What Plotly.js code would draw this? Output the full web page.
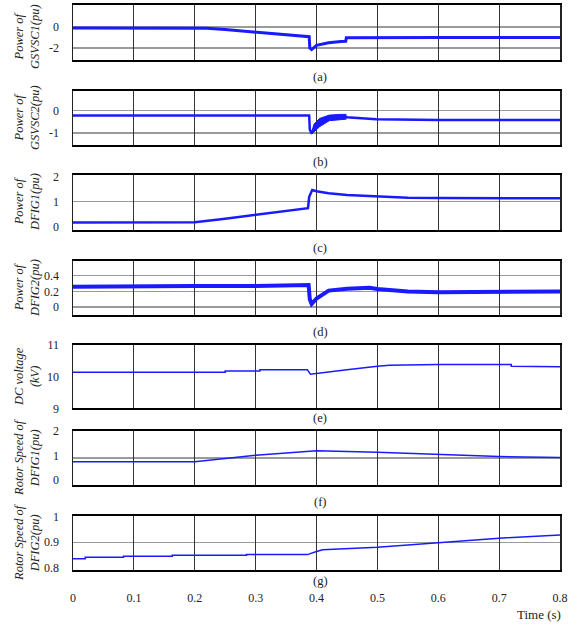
<!DOCTYPE html>
<html>
<head>
<meta charset="utf-8">
<script src="https://cdn.plot.ly/plotly-3.0.1.min.js"></script>
<style>html,body{margin:0;padding:0;background:#fff;}#chart{width:577px;height:626px;}</style>
</head>
<body>
<div id="chart"></div>
<script>
// ---- data ----
const xTicks = [0, 0.1, 0.2, 0.3, 0.4, 0.5, 0.6, 0.7, 0.8];
const xTickText = ['0', '0.1', '0.2', '0.3', '0.4', '0.5', '0.6', '0.7', '0.8'];

// (a) Power of GSVSC1
const tA = [0, 0.1, 0.2, 0.22, 0.25, 0.3, 0.356, 0.388, 0.389, 0.392, 0.40, 0.42, 0.44, 0.448, 0.449, 0.5, 0.6, 0.7, 0.8];
const vA = [-0.1, -0.1, -0.11, -0.13, -0.25, -0.5, -0.76, -0.92, -2.0, -2.15, -1.75, -1.5, -1.38, -1.36, -1.02, -1.0, -1.0, -1.0, -1.0];

// (b) Power of GSVSC2
const tB = [0, 0.2, 0.388, 0.389, 0.392, 0.396, 0.405, 0.421, 0.438, 0.449, 0.45, 0.498, 0.6, 0.7, 0.8];
const vB = [-0.22, -0.22, -0.22, -0.85, -1.02, -0.8, -0.55, -0.33, -0.28, -0.28, -0.3, -0.38, -0.42, -0.42, -0.42];
const tBband = [0.392, 0.396, 0.405, 0.421, 0.438, 0.449];
const bUpper = [-0.95, -0.6, -0.35, -0.2, -0.17, -0.17];
const bLower = [-1.05, -0.95, -0.72, -0.45, -0.39, -0.38];

// (c) Power of DFIG1
const tC = [0, 0.1, 0.2, 0.25, 0.3, 0.34, 0.386, 0.388, 0.393, 0.40, 0.42, 0.45, 0.5, 0.55, 0.6, 0.7, 0.8];
const vC = [0.17, 0.17, 0.18, 0.32, 0.47, 0.6, 0.74, 1.2, 1.47, 1.42, 1.34, 1.27, 1.2, 1.16, 1.15, 1.14, 1.14];

// (d) Power of DFIG2
const tD = [0, 0.1, 0.2, 0.3, 0.36, 0.387, 0.389, 0.392, 0.40, 0.42, 0.45, 0.487, 0.5, 0.52, 0.55, 0.6, 0.7, 0.8];
const vD = [0.26, 0.27, 0.27, 0.27, 0.285, 0.28, 0.1, 0.04, 0.11, 0.21, 0.235, 0.245, 0.23, 0.22, 0.2, 0.19, 0.19, 0.2];

// (e) DC voltage
const tE = [0, 0.25, 0.25, 0.307, 0.307, 0.385, 0.39, 0.4, 0.45, 0.5, 0.52, 0.6, 0.72, 0.72, 0.8];
const vE = [10.14, 10.14, 10.18, 10.18, 10.22, 10.22, 10.08, 10.1, 10.22, 10.33, 10.36, 10.38, 10.38, 10.33, 10.31];

// (f) Rotor speed of DFIG1
const tF = [0, 0.2, 0.3, 0.356, 0.4, 0.5, 0.6, 0.7, 0.8];
const vF = [0.74, 0.74, 1.01, 1.12, 1.19, 1.13, 1.03, 0.95, 0.91];

// (g) Rotor speed of DFIG2
const tG = [0, 0.02, 0.02, 0.083, 0.083, 0.163, 0.163, 0.285, 0.285, 0.385, 0.40, 0.41, 0.5, 0.6, 0.7, 0.8];
const vG = [0.835, 0.835, 0.84, 0.84, 0.844, 0.844, 0.848, 0.848, 0.851, 0.851, 0.863, 0.87, 0.88, 0.898, 0.916, 0.929];

const yTitles = ['Power of<br>GSVSC1(pu)', 'Power of<br>GSVSC2(pu)', 'Power of<br>DFIG1(pu)', 'Power of<br>DFIG2(pu)',
                 'DC voltage<br>(kV)', 'Rotor Speed of<br>DFIG1(pu)', 'Rotor Speed of<br>DFIG2(pu)'];
const panelLabels = ['(a)', '(b)', '(c)', '(d)', '(e)', '(f)', '(g)'];
const yTickVals = [[-2, 0], [-1, 0], [0, 1, 2], [0, 0.2, 0.4], [9, 10, 11], [0, 1, 2], [0.8, 0.9, 1]];
const yTickText = [['-2', '0'], ['-1', '0'], ['0', '1', '2'], ['0', '0.2', '0.4'], ['9', '10', '11'], ['0', '1', '2'], ['0.8', '0.9', '1']];
const yGrid = [[-2, 0], [-1, 0], [1], [0, 0.2, 0.4], [], [0.9], [0.9]];
const yRanges = [[-3.15, 2.1], [-1.53, 0.87], [-0.13, 2.07], [-0.1, 0.59], [9, 11], [-0.2, 2], [0.79, 1.005]];

// ---- layout geometry (pixels) ----
const W = 577, H = 626;
const M = {l: 73, r: 17, t: 5, b: 56};
const plotH = H - M.t - M.b, plotW = W - M.l - M.r;
const panelPx = [[5, 60], [91, 145], [175, 230], [260.7, 315], [345, 408.3], [430.7, 485], [515.7, 570]];
const titlePy = [37, 118, 202, 288, 377, 458, 543];
const labelPy = [77, 162, 248, 332, 418, 502, 581];
const py = p => (H - M.b - p) / plotH;
const px = p => (p - M.l) / plotW;

const blue = '#1a1aff';
const serif = '"Liberation Serif", "Times New Roman", Times, serif';

const series = [[tA, vA, 3], [tB, vB, 2.5], [tC, vC, 2.5], [tD, vD, 4], [tE, vE, 1.5], [tF, vF, 1.5], [tG, vG, 1.5]];

const traces = [];
const layout = {
  width: W, height: H, margin: M, showlegend: false,
  paper_bgcolor: '#fff', plot_bgcolor: '#fff',
  font: {family: serif, size: 12, color: '#111'},
  annotations: [], shapes: []
};

series.forEach((s, i) => {
  const n = i + 1;
  const xa = n === 1 ? 'x' : 'x' + n;
  const ya = n === 1 ? 'y' : 'y' + n;
  traces.push({x: s[0], y: s[1], xaxis: xa, yaxis: ya, type: 'scatter', mode: 'lines',
               line: {color: blue, width: s[2]}, hoverinfo: 'skip'});
  const isLast = n === 7;
  layout['xaxis' + (n === 1 ? '' : n)] = {
    domain: [0, 1], anchor: ya, range: [0, 0.8],
    tickvals: xTicks, ticktext: xTickText, showticklabels: isLast,
    ticks: isLast ? 'outside' : '', ticklen: 16, tickcolor: 'rgba(0,0,0,0)',
    showgrid: true, gridcolor: '#333', gridwidth: 1,
    showline: true, mirror: true, linecolor: '#000', linewidth: 2,
    zeroline: false, tickfont: {family: serif, size: 12, color: '#222'}
  };
  layout['yaxis' + (n === 1 ? '' : n)] = {
    domain: [py(panelPx[i][1]), py(panelPx[i][0])], anchor: xa, range: yRanges[i],
    tickvals: yTickVals[i], ticktext: yTickText[i],
    ticks: 'outside', ticklen: 10, tickcolor: 'rgba(0,0,0,0)',
    showgrid: false, zeroline: false,
    minor: {tickvals: yGrid[i], showgrid: yGrid[i].length > 0, gridcolor: '#9a9a9a', gridwidth: 1.3, ticks: ''},
    showline: true, mirror: true, linecolor: '#222', linewidth: 1.5,
    tickfont: {family: serif, size: 12, color: '#222'}
  };
  layout.annotations.push({
    xref: 'paper', yref: 'paper', x: px(27), y: py(titlePy[i]), xanchor: 'center', yanchor: 'middle',
    text: '<i>' + yTitles[i] + '</i>', textangle: -90, showarrow: false,
    font: {family: serif, size: 12.5, color: '#222'}
  });
  layout.annotations.push({
    xref: 'paper', yref: 'paper', x: px(320), y: py(labelPy[i]), xanchor: 'center', yanchor: 'middle',
    text: panelLabels[i], showarrow: false, font: {family: serif, size: 12.5, color: '#222'}
  });
});

// oscillation band in (b)
traces.push({x: tBband, y: bUpper, xaxis: 'x2', yaxis: 'y2', type: 'scatter', mode: 'lines',
             line: {color: blue, width: 1}, hoverinfo: 'skip'});
traces.push({x: tBband, y: bLower, xaxis: 'x2', yaxis: 'y2', type: 'scatter', mode: 'lines',
             line: {color: blue, width: 1}, fill: 'tonexty', fillcolor: blue, hoverinfo: 'skip'});

layout.annotations.push({
  xref: 'paper', yref: 'paper', x: px(563), y: py(614), xanchor: 'right', yanchor: 'middle',
  text: 'Time (s)', showarrow: false, font: {family: serif, size: 13, color: '#222'}
});

Plotly.newPlot('chart', traces, layout, {staticPlot: true, displayModeBar: false});
</script>
</body>
</html>
